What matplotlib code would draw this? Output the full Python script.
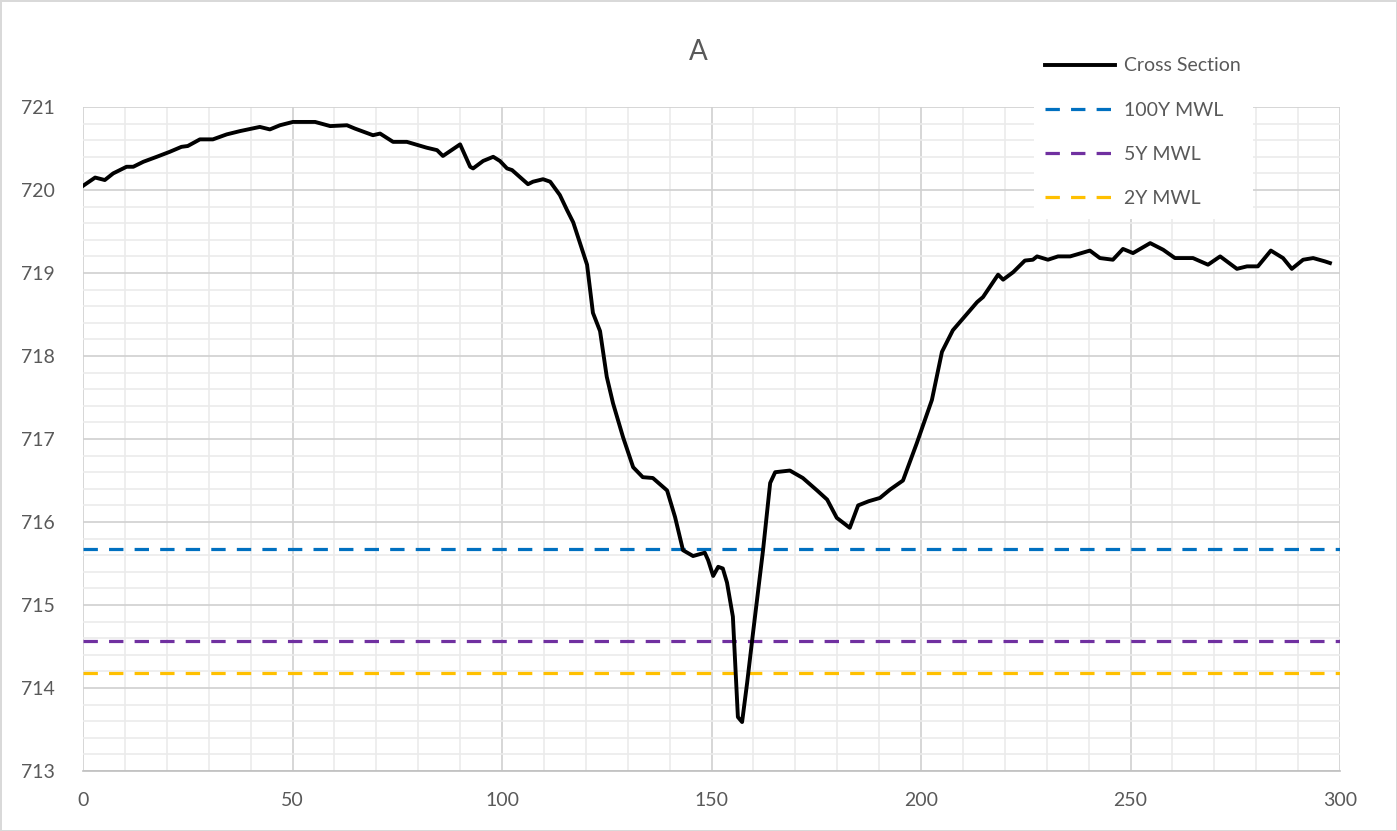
import numpy as np
import matplotlib
matplotlib.use("Agg")
import matplotlib.pyplot as plt
from matplotlib.ticker import MultipleLocator

# Sezione trasversale (distanza, quota)
dist = [0, 2.9, 5.2, 7.2, 10.4, 12, 14.4, 17.6, 20.7, 23.5, 25, 27.9, 31, 34.3,
        37.5, 42.2, 44.6, 47, 50.1, 52.5, 55.4, 59, 63, 64.9, 69.2, 70.9, 74,
        77.3, 82, 84.5, 85.9, 90, 92.4, 93.1, 95.5, 97.9, 99.5, 101.2, 102.4,
        106.2, 107.4, 109.8, 111.5, 113.8, 115.5, 117, 120.3, 121.7, 123.4,
        125, 126.5, 128.9, 131.3, 133.6, 136, 139.4, 141.3, 143.2, 145.6,
        148.4, 149.2, 150.4, 151.6, 152.7, 153.7, 155.1, 156.3, 157.3, 158.5,
        159.9, 162.3, 164, 165.2, 168.7, 171.8, 175.2, 177.6, 179.9, 183,
        185, 187.5, 190.2, 192.6, 195.7, 199, 202.6, 205, 207.6, 211.7, 213.4,
        214.8, 218.4, 219.6, 222, 224.8, 226.7, 227.7, 230.3, 232.7, 235.6,
        240.3, 242.7, 245.8, 248.2, 250.6, 254.7, 257.8, 260.6, 264.9, 268.5,
        271.4, 275.4, 277.8, 280.4, 283.5, 286.4, 288.5, 291.2, 293.6, 296.4,
        297.6]
quota = [720.05, 720.15, 720.12, 720.2, 720.28, 720.28, 720.34, 720.40, 720.46,
         720.52, 720.53, 720.61, 720.61, 720.67, 720.71, 720.76, 720.73, 720.78,
         720.82, 720.82, 720.82, 720.77, 720.78, 720.74, 720.66, 720.68, 720.58,
         720.58, 720.51, 720.48, 720.41, 720.55, 720.28, 720.26, 720.35, 720.40,
         720.35, 720.26, 720.24, 720.07, 720.1, 720.13, 720.1, 719.94, 719.76,
         719.61, 719.1, 718.52, 718.3, 717.75, 717.43, 717.02, 716.66, 716.54,
         716.53, 716.38, 716.06, 715.66, 715.59, 715.63, 715.54, 715.35, 715.46,
         715.44, 715.27, 714.86, 713.65, 713.59, 714.06, 714.66, 715.66, 716.47,
         716.6, 716.62, 716.53, 716.38, 716.27, 716.05, 715.93, 716.2, 716.25,
         716.29, 716.39, 716.5, 716.95, 717.47, 718.05, 718.31, 718.55, 718.65,
         718.71, 718.98, 718.92, 719.01, 719.15, 719.16, 719.2, 719.16, 719.2,
         719.2, 719.27, 719.18, 719.16, 719.29, 719.24, 719.36, 719.28, 719.18,
         719.18, 719.1, 719.2, 719.05, 719.08, 719.08, 719.27, 719.18, 719.05,
         719.16, 719.18, 719.14, 719.12]

# Livelli idrici
livelli = [715.67, 714.57, 714.18]
nomi_livelli = ["100Y MWL", "5Y MWL", "2Y MWL"]
colori_livelli = ["#0070C0", "#7030A0", "#FFC000"]

plt.rcParams['font.family'] = ['Lato', 'DejaVu Sans']

fig = plt.figure(figsize=(13.97, 8.31), dpi=100)
fig.patch.set_edgecolor("#D9D9D9")
fig.patch.set_linewidth(2)
ax = fig.add_axes([83/1397, 1 - 771/831, (1340-83)/1397, (771-107)/831])

ax.plot(dist, quota, color="black", lw=2.8, label="Cross Section", zorder=4)
for liv, nome, col in zip(livelli, nomi_livelli, colori_livelli):
    ax.axhline(liv, color=col, lw=2.3, ls=(0, (4.5, 3.5)), label=nome, zorder=3)

ax.set_xlim(0, 300)
ax.set_ylim(713, 721)
ax.xaxis.set_major_locator(MultipleLocator(50))
ax.xaxis.set_minor_locator(MultipleLocator(10))
ax.yaxis.set_major_locator(MultipleLocator(1))
ax.yaxis.set_minor_locator(MultipleLocator(0.2))
ax.grid(True, which="major", color="#D0D0D0", lw=1.2)
ax.grid(True, which="minor", color="#EBEBEB", lw=1.2)
ax.set_axisbelow(True)
for s in ["left", "right", "top"]:
    ax.spines[s].set_visible(False)
ax.spines["bottom"].set_color("#BFBFBF")
ax.spines["bottom"].set_linewidth(1.2)
ax.tick_params(which="both", length=0, labelsize=14, labelcolor="#595959")
ax.tick_params(axis="x", pad=15)
ax.tick_params(axis="y", pad=20)

fig.text(698/1397, 1 - 52/831, "A", ha="center", va="center", fontsize=20, color="#595959")

leg = ax.legend(loc="upper left", bbox_to_anchor=(1024/1397, 1 - 36/831),
                bbox_transform=fig.transFigure, frameon=True, fontsize=14,
                handlelength=3.6, labelspacing=1.4, handletextpad=0.45,
                borderpad=0.6, labelcolor="#595959")
leg.get_frame().set_edgecolor("none")
leg.get_frame().set_facecolor("white")
leg.get_frame().set_alpha(1)
leg.set_zorder(5)

fig.savefig("out.png", dpi=100)
